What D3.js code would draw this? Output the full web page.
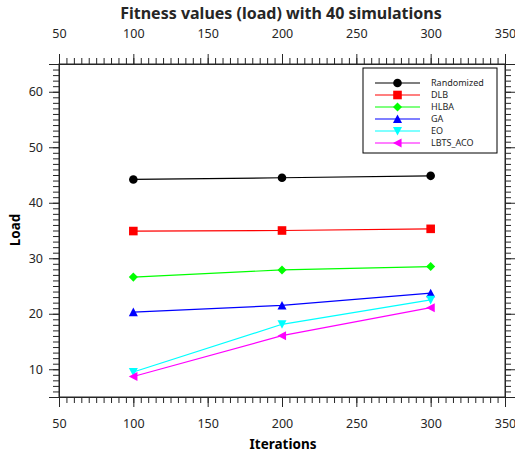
<!DOCTYPE html>
<html>
<head>
<meta charset="utf-8">
<script src="https://cdn.jsdelivr.net/npm/d3@7"></script>
<style>
  html, body { margin: 0; padding: 0; background: #fff; }
  svg { display: block; font-family: "Noto Sans", "Open Sans", sans-serif; }
</style>
</head>
<body>
<svg id="chart" width="515" height="454"></svg>
<script>
// Iterations on the x axis
const iterations = [100, 200, 300];

// Load per algorithm
const randomized = [44.2, 44.5, 44.85];
const dlb        = [34.9, 35.0, 35.3];
const hlba       = [26.6, 27.9, 28.5];
const ga         = [20.3, 21.5, 23.7];
const eo         = [9.5, 18.1, 22.5];
const lbtsAco    = [8.7, 16.05, 21.1];

const seriesNames = ["Randomized", "DLB", "HLBA", "GA", "EO", "LBTS_ACO"];
const seriesValues = [randomized, dlb, hlba, ga, eo, lbtsAco];
const seriesColors = ["#000000", "#ff0000", "#00ff00", "#0000ff", "#00ffff", "#ff00ff"];
const seriesMarkers = ["circle", "square", "diamond", "triUp", "triDown", "triLeft"];

const xTicks = [50, 100, 150, 200, 250, 300, 350];
const yTicks = [10, 20, 30, 40, 50, 60];

const svg = d3.select("#chart");
const axisColor = "#262626";

const plotLeft = 59, plotRight = 505, plotTop = 64, plotBottom = 397;
const x = d3.scaleLinear().domain([50, 350]).range([plotLeft, plotRight]);
const y = d3.scaleLinear().domain([5, 65]).range([plotBottom, plotTop]);

// marker shapes centred on (0,0)
function markerPath(type, s) {
  switch (type) {
    case "circle": {
      const p = d3.path();
      p.arc(0, 0, s, 0, 2 * Math.PI);
      p.closePath();
      return p.toString();
    }
    case "square":
      return `M${-s},${-s}H${s}V${s}H${-s}Z`;
    case "diamond": {
      const d = s * 1.05;
      return `M0,${-d}L${d},0L0,${d}L${-d},0Z`;
    }
    case "triUp":
      return `M0,${-s * 1.05}L${s * 1.05},${s * 0.95}L${-s * 1.05},${s * 0.95}Z`;
    case "triDown":
      return `M0,${s * 1.05}L${s * 1.05},${-s * 0.95}L${-s * 1.05},${-s * 0.95}Z`;
    case "triLeft":
      return `M${-s * 1.05},0L${s * 0.95},${-s * 1.05}L${s * 0.95},${s * 1.05}Z`;
  }
}

// frame
svg.append("rect")
  .attr("x", plotLeft).attr("y", plotTop)
  .attr("width", plotRight - plotLeft).attr("height", plotBottom - plotTop)
  .attr("fill", "none").attr("stroke", axisColor).attr("stroke-width", 1);

const minorX = d3.range(50, 350.001, 5);
const minorY = d3.range(5, 65.001, 1);

function styleAxis(g) {
  g.select(".domain").attr("stroke", axisColor);
  g.selectAll(".tick line").attr("stroke", axisColor);
  g.selectAll(".tick text").attr("fill", axisColor).attr("font-size", "12.5px")
    .attr("font-family", "'Noto Sans', 'Open Sans', sans-serif");
}

// minor ticks on all four sides, pointing outward
function minor(axisGen, pos, vals) {
  const g = svg.append("g").attr("transform", pos)
    .call(axisGen.tickValues(vals).tickSize(6).tickFormat(""));
  g.select(".domain").remove();
  g.selectAll(".tick line").attr("stroke", axisColor);
}
minor(d3.axisBottom(x), `translate(0,${plotBottom})`, minorX);
minor(d3.axisTop(x), `translate(0,${plotTop})`, minorX);
minor(d3.axisLeft(y), `translate(${plotLeft},0)`, minorY);
minor(d3.axisRight(y), `translate(${plotRight},0)`, minorY);

// major ticks with labels
svg.append("g").attr("transform", `translate(0,${plotBottom})`)
  .call(d3.axisBottom(x).tickValues(xTicks).tickSize(10).tickPadding(12).tickFormat(d3.format("d")))
  .call(styleAxis);
svg.append("g").attr("transform", `translate(0,${plotTop})`)
  .call(d3.axisTop(x).tickValues(xTicks).tickSize(10).tickPadding(16).tickFormat(d3.format("d")))
  .call(styleAxis);
svg.append("g").attr("transform", `translate(${plotLeft},0)`)
  .call(d3.axisLeft(y).tickValues(yTicks).tickSize(10).tickPadding(6).tickFormat(d3.format("d")))
  .call(styleAxis);
svg.append("g").attr("transform", `translate(${plotRight},0)`)
  .call(d3.axisRight(y).tickValues(yTicks).tickSize(10).tickFormat(""))
  .call(styleAxis);

// series lines and markers
const line = d3.line().x((d, i) => x(iterations[i])).y(d => y(d));
seriesValues.forEach((vals, k) => {
  svg.append("path")
    .attr("d", line(vals))
    .attr("fill", "none")
    .attr("stroke", seriesColors[k])
    .attr("stroke-width", 1.2);
  svg.append("g").selectAll("path")
    .data(vals)
    .join("path")
    .attr("transform", (d, i) => `translate(${x(iterations[i])},${y(d)})`)
    .attr("d", markerPath(seriesMarkers[k], 4.3))
    .attr("fill", seriesColors[k]);
});

// titles
svg.append("text")
  .attr("x", 281).attr("y", 19)
  .attr("text-anchor", "middle")
  .attr("font-size", "16px").attr("font-weight", "bold")
  .attr("fill", axisColor)
  .text("Fitness values (load) with 40 simulations");

svg.append("text")
  .attr("x", 283).attr("y", 449)
  .attr("text-anchor", "middle")
  .attr("font-size", "13.5px").attr("font-weight", "bold")
  .attr("fill", "#000")
  .text("Iterations");

svg.append("text")
  .attr("transform", "translate(20,230) rotate(-90)")
  .attr("text-anchor", "middle")
  .attr("font-size", "13.5px").attr("font-weight", "bold")
  .attr("fill", "#000")
  .text("Load");

// legend
const lg = svg.append("g");
lg.append("rect")
  .attr("x", 363).attr("y", 68)
  .attr("width", 134).attr("height", 85)
  .attr("fill", "#fff").attr("stroke", "#000").attr("stroke-width", 1);
seriesNames.forEach((name, k) => {
  const ry = 83 + k * 12;
  lg.append("line")
    .attr("x1", 375).attr("x2", 420).attr("y1", ry).attr("y2", ry)
    .attr("stroke", seriesColors[k]).attr("stroke-width", 1.2);
  lg.append("path")
    .attr("transform", `translate(397.5,${ry})`)
    .attr("d", markerPath(seriesMarkers[k], 4.3))
    .attr("fill", seriesColors[k]);
  lg.append("text")
    .attr("x", 431).attr("y", ry + 3.2)
    .attr("font-size", "9px")
    .attr("fill", axisColor)
    .text(name);
});
</script>
</body>
</html>
